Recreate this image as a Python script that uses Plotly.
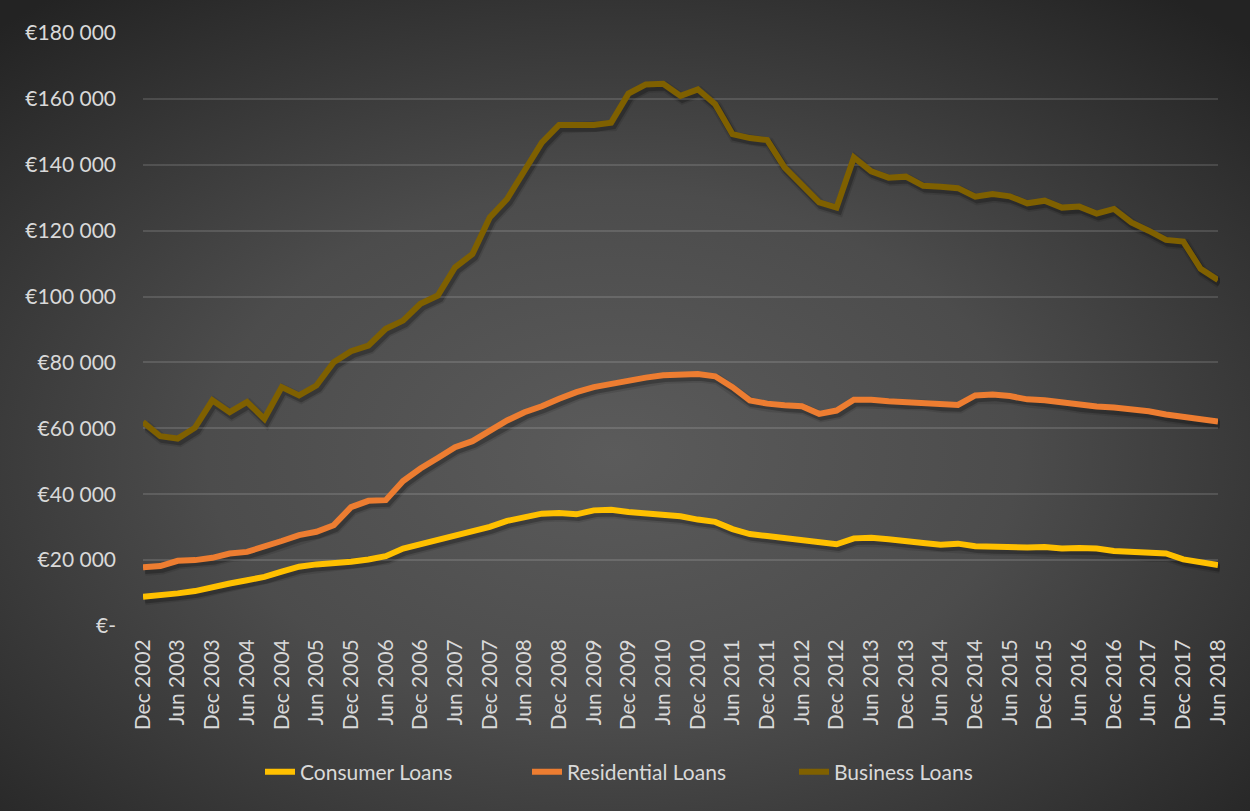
import base64
import plotly.graph_objects as go

# Quarter-end labels, Dec 2002 .. Jun 2018
quarters = []
for yr in range(2002, 2019):
    for mon in ["Mar", "Jun", "Sep", "Dec"]:
        lab = f"{mon} {yr}"
        if (yr == 2002 and mon != "Dec") or (yr == 2018 and mon in ["Sep", "Dec"]):
            continue
        quarters.append(lab)

# Outstanding loan balances (EUR), one value per quarter
consumer_loans = [
    8900, 9200, 9900, 10600, 11900, 12900, 13900, 14900, 16500, 18000, 18700, 19000,
    19500, 20200, 21200, 23500, 24800, 25800, 27100, 28600, 30100, 31900, 33100, 34100,
    34300, 33900, 35100, 35300, 34600, 34300, 33900, 33300, 32300, 31600, 29400, 27900,
    27300, 26600, 26100, 25400, 24800, 26600, 26800, 26300, 25600, 25200, 24700, 25000,
    24200, 24000, 24000, 23800, 24000, 23500, 23700, 23500, 22800, 22500, 22000, 22000,
    20200, 19300, 18500,
]
residential_loans = [
    17800, 18200, 19800, 20000, 20700, 22000, 22500, 24000, 25800, 27600, 28600, 30600,
    36100, 38000, 38200, 44000, 47800, 51000, 54300, 56100, 59200, 62400, 64900, 66700,
    69000, 71000, 72500, 73500, 74700, 75400, 76100, 76300, 76500, 75800, 72500, 68500,
    67500, 67000, 66700, 64400, 65400, 68700, 68700, 68200, 67900, 67900, 67200, 67100,
    70000, 70300, 69800, 68800, 68500, 67800, 67000, 66600, 66300, 65800, 65200, 64200,
    63600, 62700, 62100,
]
business_loans = [
    61900, 57600, 56900, 60200, 68500, 64900, 68000, 62900, 72500, 70000, 73000, 80100,
    83400, 85100, 90200, 92700, 97800, 100300, 108900, 112900, 124000, 129600, 138200, 146700,
    152100, 152100, 152100, 152800, 161600, 164400, 164600, 160900, 162900, 158400, 149300, 148100,
    147500, 139200, 134100, 128600, 127000, 142200, 138000, 136100, 136400, 133600, 133300, 132900,
    130300, 131100, 130400, 128300, 129100, 127000, 127300, 125200, 126600, 122500, 120000, 117200,
    116700, 108400, 105000,
]

series = [
    ("Consumer Loans", consumer_loans, "#FFC000"),
    ("Residential Loans", residential_loans, "#ED7D31"),
    ("Business Loans", business_loans, "#7F6000"),
]

y_ticks = list(range(0, 180001, 20000))
y_ticktext = ["€-"] + [f"€{v // 1000} 000" for v in y_ticks[1:]]
x_tickvals = quarters[::2]

W, H = 1250, 811
SHX, SHY = 2, 3                      # shadow offset in px
ML, MR, MT, MB = 143, 32 - SHX, 33, 185 - SHY
PW, PH = W - ML - MR, H - MT - MB    # paper area incl. shadow offset

FONT = "Lato"
TXT = "#D9D9D9"

# Dark radial backdrop as an SVG image
svg = f"""<svg xmlns='http://www.w3.org/2000/svg' width='{W}' height='{H}' viewBox='0 0 {W} {H}' preserveAspectRatio='none'>
<defs><radialGradient id='g' cx='0.49' cy='0.56' r='0.72' gradientUnits='objectBoundingBox'>
<stop offset='0' stop-color='#5b5b5b'/><stop offset='0.45' stop-color='#4c4c4c'/><stop offset='1' stop-color='#232323'/>
</radialGradient></defs>
<rect x='0' y='0' width='{W}' height='{H}' fill='url(#g)'/>
</svg>"""
bg_src = "data:image/svg+xml;base64," + base64.b64encode(svg.encode()).decode()

fig = go.Figure()

# soft drop shadows on a hidden subplot shifted down/right by a few px
for name, vals, col in series:
    for wdt, alpha in [(11, 0.10), (7.5, 0.22)]:
        fig.add_trace(go.Scatter(
            x=quarters, y=vals, mode="lines", xaxis="x", yaxis="y",
            line=dict(color=f"rgba(0,0,0,{alpha})", width=wdt),
            showlegend=False, hoverinfo="skip",
        ))

# coloured series on the visible subplot, which carries ticks and grid
for name, vals, col in series:
    fig.add_trace(go.Scatter(
        x=quarters, y=vals, mode="lines", name=name, xaxis="x2", yaxis="y2",
        line=dict(color=col, width=6),
    ))

dx = SHX / PW
dy = SHY / PH

fig.update_layout(
    width=W, height=H,
    margin=dict(l=ML, r=MR, t=MT, b=MB),
    paper_bgcolor="#262626",
    plot_bgcolor="rgba(0,0,0,0)",
    font=dict(family=FONT, size=21, color=TXT),
    images=[dict(
        source=bg_src, xref="paper", yref="paper",
        x=-ML / PW, y=1 + MT / PH, sizex=W / PW, sizey=H / PH,
        xanchor="left", yanchor="top", sizing="stretch", layer="below",
    )],
    xaxis=dict(
        type="category", categoryorder="array", categoryarray=quarters,
        range=[0, len(quarters) - 1], domain=[dx, 1], anchor="y",
        showticklabels=False, showgrid=False, zeroline=False, showline=False, ticks="",
    ),
    yaxis=dict(
        range=[0, 180000], domain=[0, 1 - dy], anchor="x",
        showticklabels=False, showgrid=False, zeroline=False, showline=False, ticks="",
    ),
    xaxis2=dict(
        type="category", categoryorder="array", categoryarray=quarters,
        range=[0, len(quarters) - 1], domain=[0, 1 - dx], anchor="y2",
        tickmode="array", tickvals=x_tickvals, ticktext=x_tickvals,
        tickangle=-90, showgrid=False, zeroline=False, showline=False,
        ticks="", ticklabelstandoff=8,
        tickfont=dict(family=FONT, size=21, color=TXT),
    ),
    yaxis2=dict(
        range=[0, 180000], domain=[dy, 1], anchor="x2",
        tickmode="array", tickvals=y_ticks, ticktext=y_ticktext,
        showgrid=True, gridcolor="rgba(255,255,255,0.13)", gridwidth=1.5,
        zeroline=False, showline=False, ticks="", ticklabelstandoff=26,
        tickfont=dict(family=FONT, size=21, color=TXT),
    ),
    legend=dict(
        orientation="h", x=(260 - ML) / PW, xanchor="left",
        y=-(772 - (H - MB)) / PH, yanchor="middle",
        font=dict(family=FONT, size=21, color=TXT),
        bgcolor="rgba(0,0,0,0)", entrywidth=222, entrywidthmode="pixels",
        tracegroupgap=0,
    ),
    showlegend=True,
)

fig.write_html("out.html")
